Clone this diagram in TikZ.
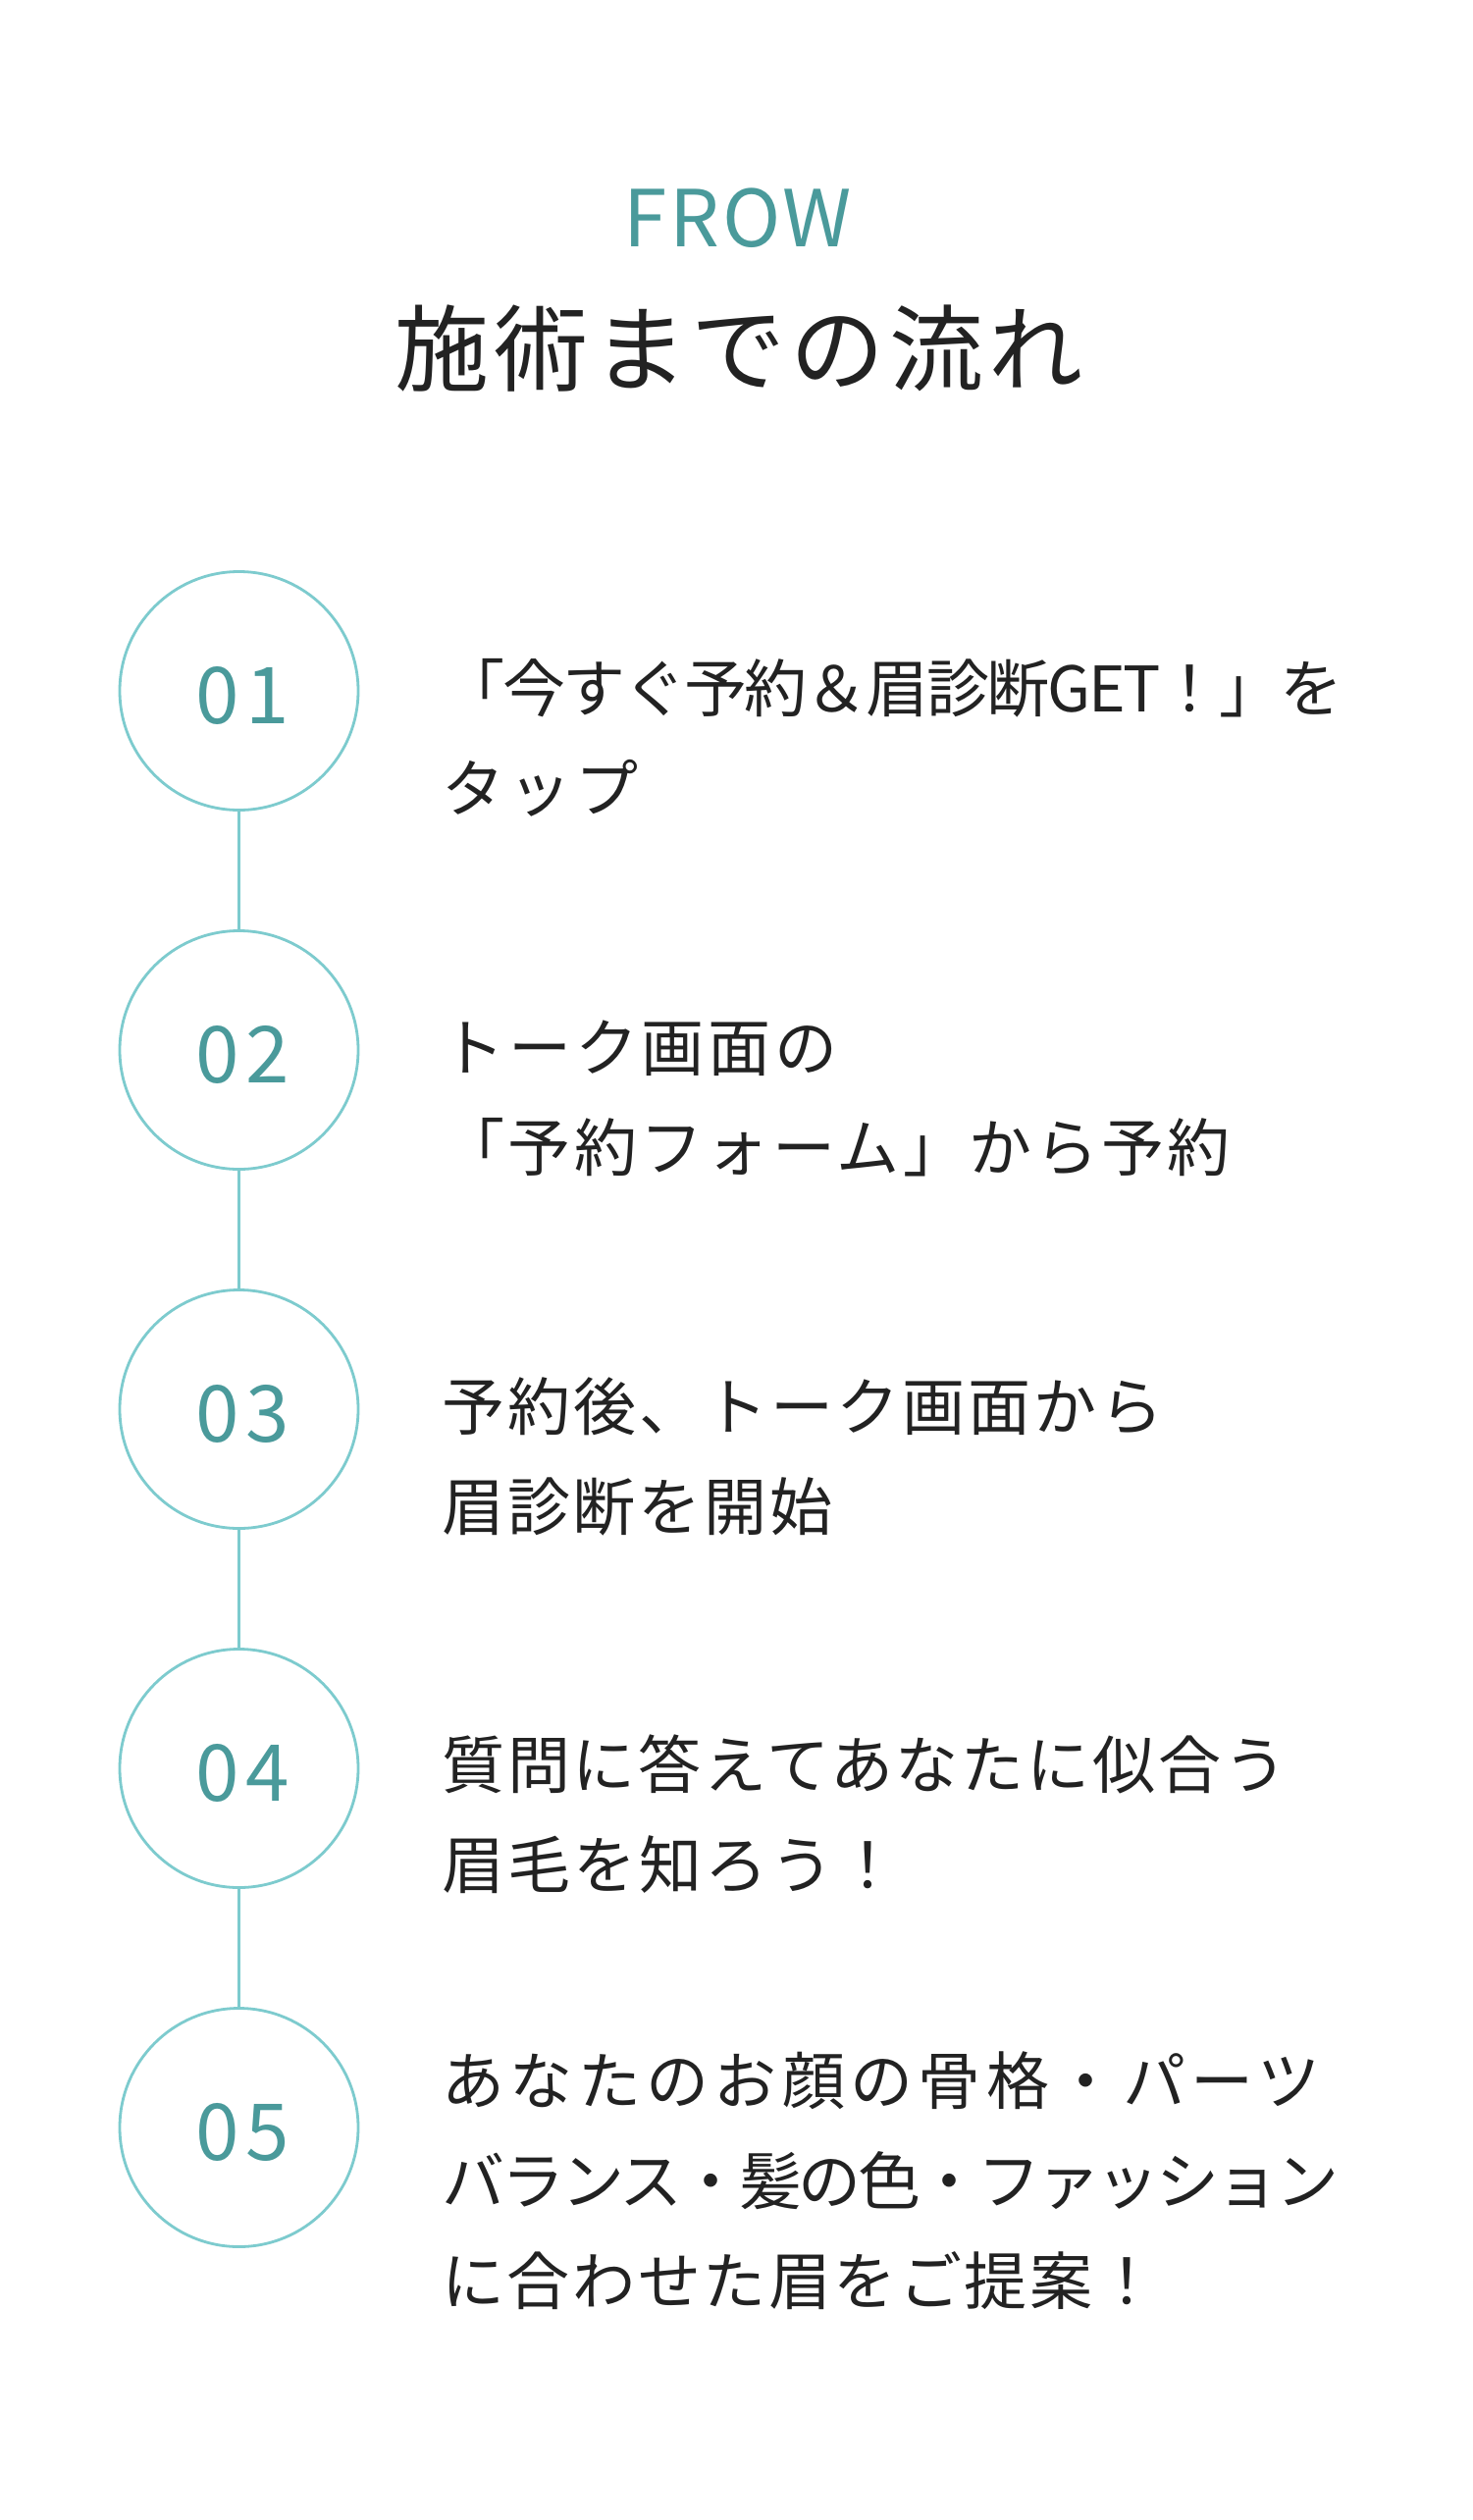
\documentclass[tikz,border=0pt]{standalone}
\usepackage{fontspec}
\setmainfont{Noto Sans CJK JP}
\newfontfamily\bodyfont{Noto Sans CJK JP}
\newfontfamily\headfont[LetterSpace=5]{Noto Sans CJK JP}
\newfontfamily\frowfont[LetterSpace=3.5]{Noto Sans CJK JP}
\newfontfamily\numfont[LetterSpace=8]{Noto Sans CJK JP}
\definecolor{circlecol}{HTML}{7DCBCE}
\definecolor{tealtext}{HTML}{4A9A9B}
\definecolor{darktext}{HTML}{222222}
\begin{document}
\begin{tikzpicture}[x=0.5pt,y=-0.5pt,
  stepcircle/.style={circle, draw=circlecol, line width=1.4pt, minimum size=121.5pt, inner sep=0pt, outer sep=0pt},
  stepnum/.style={anchor=base, inner sep=0pt, text=tealtext, font=\numfont\fontsize{40pt}{48pt}\selectfont},
  conn/.style={draw=circlecol, line width=1.4pt},
  body/.style={anchor=base west, inner sep=0pt, text=darktext, font=\bodyfont\fontsize{32pt}{51pt}\selectfont\addfontfeature{LetterSpace=#1}},
  body/.default=5,
  frow/.style={anchor=base, inner sep=0pt, text=tealtext, font=\frowfont\fontsize{40pt}{48pt}\selectfont},
  headline/.style={anchor=base, inner sep=0pt, text=darktext, font=\headfont\fontsize{48pt}{58pt}\selectfont}
]
\fill[white] (0,0) rectangle (1500,2568);
\useasboundingbox (0,0) rectangle (1500,2568);

\node[frow] (frow) at (752,252) {FROW};
\node[headline] (title) at (753,392) {施術までの流れ};

\node[stepcircle] (c1) at (243.5,704) {};
\node[stepcircle] (c2) at (243.5,1070) {};
\node[stepcircle] (c3) at (243.5,1436) {};
\node[stepcircle] (c4) at (243.5,1802) {};
\node[stepcircle] (c5) at (243.5,2168) {};

\draw[conn] (c1.south) -- (c2.north);
\draw[conn] (c2.south) -- (c3.north);
\draw[conn] (c3.south) -- (c4.north);
\draw[conn] (c4.south) -- (c5.north);

\node[stepnum] (n1) at (247,737) {01};
\node[stepnum] (n2) at (247,1103) {02};
\node[stepnum] (n3) at (247,1469) {03};
\node[stepnum] (n4) at (247,1835) {04};
\node[stepnum] (n5) at (247,2201) {05};

\node[body=-3.6] (t1a) at (450,725) {「今すぐ予約＆眉診断GET！」を};
\node[body=6] (t1b) at (450,827) {タップ};

\node[body=6] (t2a) at (450,1091) {トーク画面の};
\node[body=5.3] (t2b) at (450,1193) {「予約フォーム」から予約};

\node[body=4.8] (t3a) at (450,1457) {予約後、トーク画面から};
\node[body=4.4] (t3b) at (450,1559) {眉診断を開始};

\node[body=4.4] (t4a) at (450,1822) {質問に答えてあなたに似合う};
\node[body=4.7] (t4b) at (450,1924) {眉毛を知ろう！};

\node[body=8.4] (t5a) at (450,2144) {あなたのお顔の骨格・パーツ};
\node[body=-5] (t5b) at (450,2246) {バランス・髪の色・ファッション};
\node[body=4] (t5c) at (450,2348) {に合わせた眉をご提案！};
\end{tikzpicture}
\end{document}
